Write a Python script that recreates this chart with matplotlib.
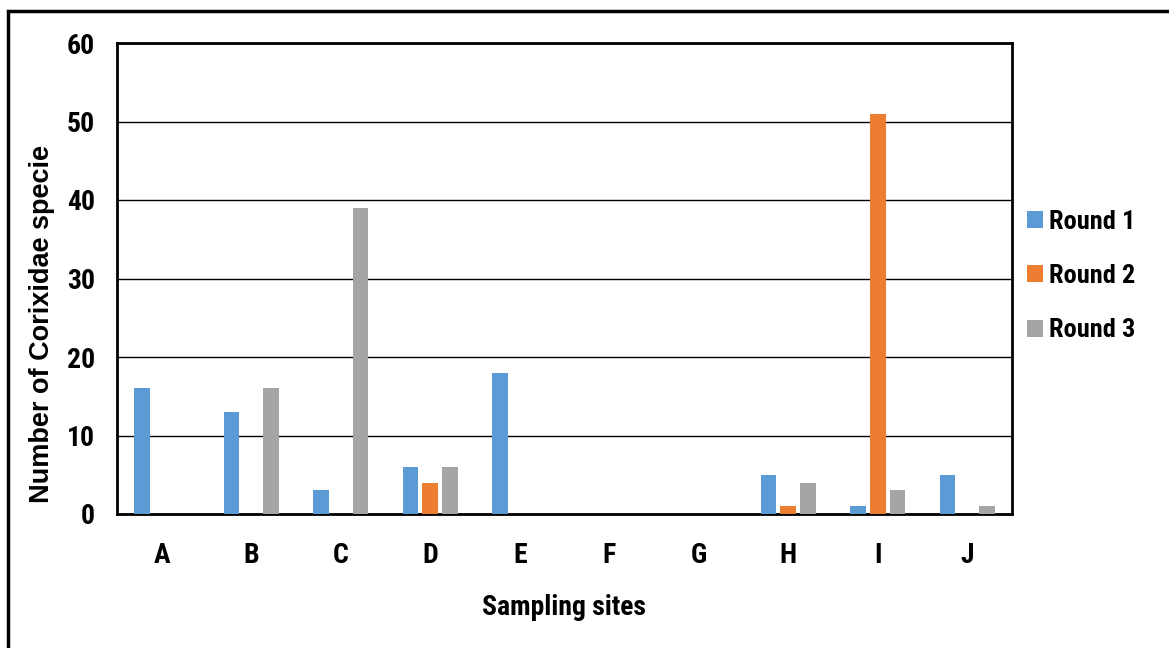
import matplotlib
matplotlib.use("Agg")
import matplotlib.pyplot as plt
from matplotlib import font_manager
from matplotlib.font_manager import FontProperties
from matplotlib.patches import Rectangle
import numpy as np

sites = ["A", "B", "C", "D", "E", "F", "G", "H", "I", "J"]
round1 = [16, 13, 3, 6, 18, 0, 0, 5, 1, 5]
round2 = [0, 0, 0, 4, 0, 0, 0, 1, 51, 0]
round3 = [0, 16, 39, 6, 0, 0, 0, 4, 3, 1]
series_names = ["Round 1", "Round 2", "Round 3"]
colors = ["#5B9BD5", "#ED7D31", "#A5A5A5"]

# Pick a narrow bold face for ticks, legend and x label if one is installed
fonts = font_manager.fontManager.ttflist
narrow = None
narrow_stretch = "normal"
for name in ["Liberation Sans Narrow", "Arial Narrow", "Roboto Condensed", "Open Sans Condensed"]:
    if any(f.name == name for f in fonts):
        narrow = name
        break
if narrow is None:
    for name in ["Open Sans", "DejaVu Sans", "Noto Sans", "Roboto"]:
        if any(f.name == name and str(f.stretch) in ("condensed", "semi-condensed", "extra-condensed", "500", "400", "300")
               and f.stretch not in ("normal",) for f in fonts):
            narrow = name
            narrow_stretch = "condensed"
            break
if narrow is None:
    narrow = "Liberation Sans"
    nsize, tsize = 16, 16
else:
    nsize, tsize = 19, 20

# Bold Liberation Sans file for the vertical axis title
bold_path = None
for f in fonts:
    if f.name == "Liberation Sans" and f.weight in (700, "bold") and f.style == "normal":
        bold_path = f.fname
        break
if bold_path:
    ylab_prop = FontProperties(fname=bold_path, size=19.5)
else:
    ylab_prop = FontProperties(family="Liberation Sans", weight="bold", size=19.5)

plt.rcParams["font.family"] = ["Liberation Sans", "DejaVu Sans"]
plt.rcParams["font.weight"] = "bold"
plt.rcParams["axes.labelweight"] = "bold"
nprop = dict(family=[narrow, "DejaVu Sans"], weight="bold", size=nsize, stretch=narrow_stretch)
tprop = dict(nprop, size=tsize)

W, H = 1169, 648
fig = plt.figure(figsize=(W / 100, H / 100), dpi=100)
ax = fig.add_axes([117 / W, 1 - 514 / H, (1012 - 117) / W, (514 - 43) / H])

x = np.arange(len(sites))
width = 0.175
offset = 0.222
for i, (vals, name, c) in enumerate(zip([round1, round2, round3], series_names, colors)):
    ax.bar(x + (i - 1) * offset, vals, width, color=c, label=name, zorder=3)

ax.set_xlim(-0.5, len(sites) - 0.5)
ax.set_ylim(0, 60)
ax.set_yticks(range(0, 61, 10))
ax.yaxis.grid(True, color="black", linewidth=1.0, zorder=0)
ax.set_xticks(x)
ax.set_xticklabels(sites)
ax.tick_params(axis="both", length=0)
ax.tick_params(axis="x", pad=20)
ax.tick_params(axis="y", pad=16)
for lab in ax.get_xticklabels() + ax.get_yticklabels():
    lab.set(**tprop)
for s in ax.spines.values():
    s.set_linewidth(2)
    s.set_color("black")

ax.set_xlabel("Sampling sites", labelpad=18, **tprop)
ax.set_ylabel("Number of Corixidae specie", fontproperties=ylab_prop)
ax.yaxis.set_label_coords(42 / W, 0.5, transform=fig.transFigure)
ax.yaxis.label.set_verticalalignment("center")

leg = fig.legend(loc="upper left", bbox_to_anchor=(1003 / W, 1 - 186 / H), frameon=False,
                 prop=FontProperties(family=[narrow, "DejaVu Sans"], weight="bold", size=nsize, stretch=narrow_stretch),
                 handlelength=0.6, handleheight=0.6, handletextpad=0.25, labelspacing=1.15)

fig.patches.append(Rectangle((8 / W, -0.1), 1.2, 1 - 11 / H + 0.1, transform=fig.transFigure,
                             fill=False, edgecolor="black", linewidth=2.5))

fig.savefig("out.png", dpi=100)
